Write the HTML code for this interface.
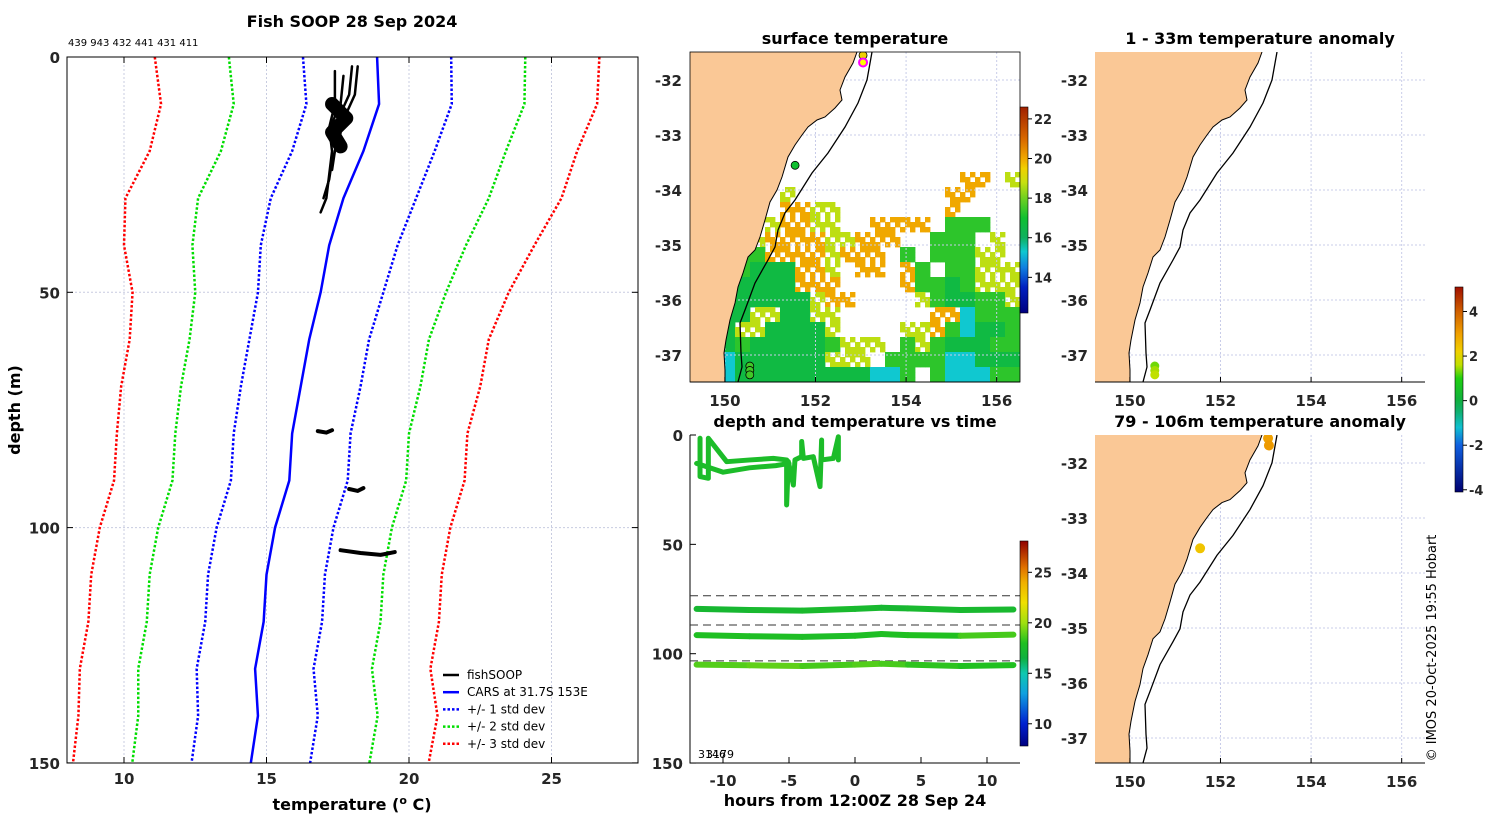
<!DOCTYPE html>
<html><head><meta charset="utf-8"><style>
html,body{margin:0;padding:0;background:#fff;}
svg text{font-family:"DejaVu Sans","Liberation Sans",sans-serif;}
.t{font-weight:bold;font-size:16px;fill:#000;}
.k{font-weight:bold;font-size:15px;fill:#262626;}
</style></head><body>
<svg id="s" width="1500" height="820" viewBox="0 0 1500 820" xmlns="http://www.w3.org/2000/svg">
<defs>
<clipPath id="cl1"><rect x="67" y="57" width="571" height="706"/></clipPath>
<clipPath id="cm1"><rect x="690" y="52" width="330" height="330"/></clipPath>
<clipPath id="cm2"><rect x="1095" y="52" width="330" height="330"/></clipPath>
<clipPath id="cm3"><rect x="1095" y="435" width="330" height="328"/></clipPath>
</defs>
<text x="352" y="27" text-anchor="middle" class="t">Fish SOOP 28 Sep 2024</text>
<text x="68" y="46" font-size="10">439 943 432 441 431 411</text>
<text x="855" y="44" text-anchor="middle" class="t">surface temperature</text>
<text x="855" y="427" text-anchor="middle" class="t">depth and temperature vs time</text>
<text x="1260" y="44" text-anchor="middle" class="t">1 - 33m temperature anomaly</text>
<text x="1260" y="427" text-anchor="middle" class="t">79 - 106m temperature anomaly</text>
<text x="352" y="810" text-anchor="middle" class="t">temperature (<tspan dy="-6" font-size="11">o</tspan><tspan dy="6"> C)</tspan></text>
<text transform="translate(20,410) rotate(-90)" text-anchor="middle" class="t">depth (m)</text>
<text x="855" y="806" text-anchor="middle" class="t">hours from 12:00Z 28 Sep 24</text>
<text transform="translate(1436,648) rotate(-90)" text-anchor="middle" font-size="13">© IMOS 20-Oct-2025 19:55 Hobart</text>
<text x="698" y="758" font-size="11">3146</text>
<text x="706" y="758" font-size="11">3179</text>
<g id="g"></g>
</svg>
<script>
// ---------- profile data ----------
const depths=[0,10,20,30,40,50,60,70,80,90,100,110,120,130,140,150];
const carsMean=[18.88,18.95,18.4,17.7,17.2,16.9,16.5,16.2,15.9,15.8,15.3,15.0,14.9,14.6,14.7,14.45];
const carsSd=[2.6,2.55,2.5,2.55,2.4,2.2,2.1,2.1,2.05,2.05,2.05,2.05,2.05,2.05,2.1,2.08];
const fishProfDepths=[[3,10,15,20,25,30,33],[4,10,14,18,22,26,30],[2,8,12,16,20,24],[2,8,12,16,20],[10,13,16,19]];
const fishProfTemps=[[17.4,17.4,17.2,17.3,17.2,17.1,16.9],[17.7,17.6,17.3,17.5,17.3,17.2,17.0],[18.0,17.9,17.6,17.5,17.4,17.3],[18.2,18.1,17.8,17.6,17.5],[17.3,17.8,17.3,17.6]];
const fishDeepDepths=[[79.5,79.8,79.3],[91.8,92.2,91.6],[104.8,105.4,105.8,105.2]];
const fishDeepTemps=[[16.8,17.1,17.3],[17.9,18.2,18.4],[17.6,18.3,19.0,19.5]];
const tempTicks=[10,15,20,25];
const depthTicks=[0,50,100,150];
// ---------- time plot data ----------
const surfHours=[-11.74,-11.74,-11.11,-11.11,-9.72,-7.95,-6.19,-5.18,-5.18,-5.05,-4.67,-4.55,-4.04,-4.04,-3.91,-3.16,-2.65,-2.53,-2.53,-1.64,-1.26,-1.26];
const surfDepths=[1.5,19,19.8,1.5,12.2,11.4,10.7,11.4,32,12.2,22.9,11.4,9.9,3,10.7,9.9,23.6,2.3,11.4,10.7,0.8,11.4];
const surf2Hours=[-12,-10,-8,-6,-5];
const surf2Depths=[13,17,15,14,13];
const bandHours=[-12,-8,-4,0,2,4,8,12];
const bandDepths=[[79.5,80,80.3,79.5,79,79.3,80,79.8],[91.5,92,92.3,91.8,91,91.5,91.8,91.3],[105,105.3,105.6,105,104.6,105,105.6,105.2]];
const bandTemps=[[17.2,17.3,17.4,17.3,17.2,17.3,17.3,17.2],[17.9,17.8,17.7,17.8,17.9,18.0,18.6,18.8],[18.8,19.0,18.6,18.8,18.6,18.2,18.0,18.1]];
const dashDepths=[73.5,86.9,103.3];
const hourTicks=[-10,-5,0,5,10];
const surfTemp=17.6;
// ---------- map data ----------
const lonTicks=[150,152,154,156];
const latTicks=[-32,-33,-34,-35,-36,-37];
const sstRows=["......................","......................","......................","......................","......................","......................","......................","......................",
"..................oo.y","......y..........oo...","......ooyy.......o....",".....yooyy..oooo.ggg..","....yooooyyooo..ggg.y.","...ggooooyooo.g.gggyy.",
"...gGGGooy.oo.og.ggyyy","..GGGGGooo....oggGgyyy","..GGGGGGyoo....ygGGggy","..GGyyGGyy......oocggg","..GyyGGGGy....yyogcGGg","..GgGGGGGgyyy.gygGGGgg","..cGGGGGGyyy.ggggccGGG","..cGGGGGGGGGccg.gcccgg"];
const sstClassTemp={G:16.6,g:17.3,y:18.7,o:20.0,c:15.3};
const sstPtLon=[153.05,151.55,150.55,150.55,150.55];
const sstPtLat=[-31.55,-33.55,-37.2,-37.28,-37.36];
const sstPtTemp=[19.5,17.0,17.5,17.5,17.5];
const anomShallowLon=[150.55,150.55,150.55];
const anomShallowLat=[-37.2,-37.28,-37.36];
const anomShallowVal=[1.3,1.5,1.6];
const anomDeepLon=[153.05,153.07,151.55];
const anomDeepLat=[-31.55,-31.68,-33.55];
const anomDeepVal=[3.0,3.1,2.4];
const sstCbVals=[12.2,13.5,14.5,15.3,16,17,18,18.8,19.5,20,21,22.6];
const sstCbCols=["#00007f","#0020c0","#1080e0","#10c8d0","#10b060","#10c030","#70d020","#c8e010","#f0d000","#f0a800","#d86800","#a02000"];
const timeCbVals=[7.8,10,13,15,16.5,18,20,22,24,25.5,28.1];
const timeCbCols=["#000080","#0020d0","#10a0e0","#10c8b0","#10b040","#20c020","#a0e010","#f0e000","#f0b000","#e07000","#900000"];
const anomCbVals=[-4.1,-2,-1.2,-0.5,0,1,1.6,2.2,3,4,5.1];
const anomCbCols=["#000070","#1060e0","#10c0d0","#10b070","#10b040","#20d010","#c0e000","#f0d000","#f0a000","#d06000","#a01000"];
const sstCbTicks=[14,16,18,20,22];
const timeCbTicks=[10,15,20,25];
const anomCbTicks=[-4,-2,0,2,4];
const coast=[[167,0],[163,11],[155,25],[150,38],[152,48],[145,56],[135,65],[127,68],[118,75],[112,83],[105,93],[98,105],[95,115],[92,125],[87,138],[80,150],[75,168],[70,185],[65,198],[58,205],[53,221],[48,235],[45,251],[40,268],[36,288],[34,301],[35,318],[35,330]];
const isobath=[[182,0],[177,28],[168,51],[155,75],[138,101],[122,121],[105,148],[95,161],[88,178],[85,195],[78,208],[65,231],[55,258],[50,271],[51,301],[52,315],[48,330]];

const NS="http://www.w3.org/2000/svg";
const G=document.getElementById('g');
function mk(tag,at,parent){const e=document.createElementNS(NS,tag);for(const k in at)e.setAttribute(k,at[k]);(parent||G).appendChild(e);return e;}
function hex(c){return [parseInt(c.substr(1,2),16),parseInt(c.substr(3,2),16),parseInt(c.substr(5,2),16)];}
function cmap(v,vals,cols){if(v<=vals[0])return cols[0];if(v>=vals[vals.length-1])return cols[cols.length-1];
 for(let i=0;i<vals.length-1;i++){if(v<=vals[i+1]){const f=(v-vals[i])/(vals[i+1]-vals[i]);const a=hex(cols[i]),b=hex(cols[i+1]);
 return 'rgb('+a.map((x,j)=>Math.round(x+(b[j]-x)*f)).join(',')+')';}}}

// ===== Left profile plot =====
const X=t=>67+(t-8)*28.5, Y=d=>57+d*4.706;
tempTicks.forEach(t=>{let l=mk('line',{x1:X(t),x2:X(t),y1:57,y2:763,stroke:'#c8cce0','stroke-dasharray':'2 2','stroke-width':1});
 
 mk('line',{x1:X(t),x2:X(t),y1:57,y2:63,stroke:'#000'});mk('line',{x1:X(t),x2:X(t),y1:757,y2:763,stroke:'#000'});
 let tx=mk('text',{x:X(t),y:784,'text-anchor':'middle',class:'k'});tx.textContent=t;
 });
depthTicks.forEach(d=>{if(d>0&&d<150){let l=mk('line',{x1:67,x2:638,y1:Y(d),y2:Y(d),stroke:'#c8cce0','stroke-dasharray':'2 2'});
 }
 mk('line',{x1:67,x2:73,y1:Y(d),y2:Y(d),stroke:'#000'});mk('line',{x1:632,x2:638,y1:Y(d),y2:Y(d),stroke:'#000'});
 let tx=mk('text',{x:60,y:Y(d)+6,'text-anchor':'end',class:'k'});tx.textContent=d;
 });
const lp=mk('g',{'clip-path':'url(#cl1)'});

const sdStyle=[['#0000ff',1],['#00dd00',2],['#ff0000',3]];
sdStyle.forEach(([c,k])=>{[-1,1].forEach(sg=>{
 const pts=depths.map((d,i)=>X(carsMean[i]+sg*k*carsSd[i])+','+Y(d)).join(' ');
 let p=mk('polyline',{points:pts,fill:'none',stroke:c,'stroke-width':2.5,'stroke-dasharray':'2.5 2'},lp);
 });});
let cm=mk('polyline',{points:depths.map((d,i)=>X(carsMean[i])+','+Y(d)).join(' '),fill:'none',stroke:'#0000ff','stroke-width':2.5},lp);

fishProfDepths.forEach((ds,j)=>{let p=mk('polyline',{points:ds.map((d,i)=>X(fishProfTemps[j][i])+','+Y(d)).join(' '),fill:'none',stroke:'#000','stroke-width':j==4?14:2.5,'stroke-linejoin':'round','stroke-linecap':'round'},lp);
 });
fishDeepDepths.forEach((ds,j)=>{let p=mk('polyline',{points:ds.map((d,i)=>X(fishDeepTemps[j][i])+','+Y(d)).join(' '),fill:'none',stroke:'#000','stroke-width':4,'stroke-linecap':'round'},lp);
 });
let bx=mk('rect',{x:67,y:57,width:571,height:706,fill:'none',stroke:'#000','stroke-width':1});

const legItems=[['fishSOOP','#000',null],['CARS at 31.7S 153E','#0000ff',null],['+/- 1 std dev','#0000ff','2.5 2'],['+/- 2 std dev','#00dd00','2.5 2'],['+/- 3 std dev','#ff0000','2.5 2']];
const lg=mk('g',{});
legItems.forEach((it,i)=>{const y=675+i*17.2;const a={x1:443,x2:459,y1:y,y2:y,stroke:it[1],'stroke-width':2.5};if(it[2])a['stroke-dasharray']=it[2];
 let l=mk('line',a,lg);
 let t=mk('text',{x:467,y:y+4,'font-size':12},lg);t.textContent=it[0];});

function grad(id,vals,cols){const defs=document.querySelector('defs');const g=mk('linearGradient',{id:id,x1:0,y1:1,x2:0,y2:0},defs);
 const lo=vals[0],hi=vals[vals.length-1];vals.forEach((v,i)=>mk('stop',{offset:(v-lo)/(hi-lo),'stop-color':cols[i]},g));}
function colorbar(x,yTop,yBot,vals,cols,ticks,id,name){grad(id,vals,cols);
 let r=mk('rect',{x:x,y:yTop,width:8,height:yBot-yTop,fill:'url(#'+id+')',stroke:'#000','stroke-width':0.6});
 
 const lo=vals[0],hi=vals[vals.length-1];
 ticks.forEach(t=>{const y=yBot-(t-lo)/(hi-lo)*(yBot-yTop);mk('line',{x1:x+8,x2:x+12,y1:y,y2:y,stroke:'#000'});
  let tx=mk('text',{x:x+14,y:y+5,'font-size':13,'font-weight':'bold',fill:'#262626'});tx.textContent=t;
  });}

function mapAxes(ox,oy,h,clip,name){
 const MX=lon=>ox+(lon-149.23)*45.3, MY=lat=>oy+(-31.49-lat)*55;
 const g=mk('g',{'clip-path':'url(#'+clip+')'});
 return {MX,MY,g};}
function mapDecor(m,ox,oy,h,name,labLeft){
 lonTicks.forEach(l=>{let ln=mk('line',{x1:m.MX(l),x2:m.MX(l),y1:oy,y2:oy+h,stroke:'#c8cce8','stroke-dasharray':'2 2'},m.g);
  
  let t=mk('text',{x:m.MX(l),y:oy+h+24,'text-anchor':'middle',class:'k'});t.textContent=l;
  });
 latTicks.forEach(l=>{let ln=mk('line',{x1:ox,x2:ox+330,y1:m.MY(l),y2:m.MY(l),stroke:'#c8cce8','stroke-dasharray':'2 2'},m.g);
  
  let t=mk('text',{x:labLeft,y:m.MY(l)+6,'text-anchor':'end',class:'k'});t.textContent=l;
  });
 const land=coast.map(p=>(ox+p[0])+','+(oy+p[1]*h/330)).join(' ')+' '+ox+','+(oy+h)+' '+ox+','+oy;
 let lp=mk('polygon',{points:land,fill:'#fac896',stroke:'none'},m.g);
 let cl=mk('polyline',{points:coast.map(p=>(ox+p[0])+','+(oy+p[1]*h/330)).join(' '),fill:'none',stroke:'#000','stroke-width':1},m.g);
 
 let ib=mk('polyline',{points:isobath.map(p=>(ox+p[0])+','+(oy+p[1]*h/330)).join(' '),fill:'none',stroke:'#000','stroke-width':1.3},m.g);
 
 let b=mk('path',{d:`M${ox},${oy+h} H${ox+330}`,stroke:'#000',fill:'none'});
 lonTicks.forEach(l=>mk('line',{x1:m.MX(l),x2:m.MX(l),y1:oy+h,y2:oy+h-5,stroke:'#000'}));}

// SST map
const m1=mapAxes(690,52,330,'cm1','sst-map');
const cell=330/22, sub=cell/3;
sstRows.forEach((row,r)=>{for(let c=0;c<row.length;c++){const ch=row[c];if(ch==='.')continue;
 const col=cmap(sstClassTemp[ch],sstCbVals,sstCbCols);const sparse=(ch==='o'||ch==='y');
 for(let i=0;i<3;i++)for(let j=0;j<3;j++){if(sparse&&((i*2+j+r+c)%3===0))continue;
  let rc=mk('rect',{x:690+c*cell+j*sub,y:52+r*cell+i*sub,width:sub+0.4,height:sub+0.4,fill:col},m1.g);
  }}});
mapDecor(m1,690,52,330,'sst-map',682);
mk('rect',{x:690,y:52,width:330,height:330,fill:'none',stroke:'#000','stroke-width':0.8});
sstPtLon.forEach((lo,i)=>{let c=mk('circle',{cx:m1.MX(lo),cy:m1.MY(sstPtLat[i]),r:4,fill:cmap(sstPtTemp[i],sstCbVals,sstCbCols),stroke:'#000','stroke-width':0.8},m1.g);
 });
let mg=mk('circle',{cx:m1.MX(153.05),cy:m1.MY(-31.68),r:4,fill:'#ff0',stroke:'#f0f','stroke-width':2},m1.g);

colorbar(1020,107,313,sstCbVals,sstCbCols,sstCbTicks,'gsst','sst-colorbar');

const m2=mapAxes(1095,52,330,'cm2','anomaly-shallow-map');
mapDecor(m2,1095,52,330,'anomaly-shallow-map',1088);
anomShallowLon.forEach((lo,i)=>{let c=mk('circle',{cx:m2.MX(lo),cy:m2.MY(anomShallowLat[i]),r:4.5,fill:cmap(anomShallowVal[i],anomCbVals,anomCbCols)},m2.g);
 });
const m3=mapAxes(1095,435,328,'cm3','anomaly-deep-map');
mapDecor(m3,1095,435,328,'anomaly-deep-map',1088);
anomDeepLon.forEach((lo,i)=>{let c=mk('circle',{cx:m3.MX(lo),cy:m3.MY(anomDeepLat[i]),r:5,fill:cmap(anomDeepVal[i],anomCbVals,anomCbCols)},m3.g);
 });
colorbar(1455,287,492,anomCbVals,anomCbCols,anomCbTicks,'ganom','anomaly-colorbar');

// ===== time plot =====
const HX=h=>855+h*13.2, HY=d=>435+d*2.187;
let ax=mk('path',{d:'M690,435 V763 H1020',stroke:'#000',fill:'none'});
hourTicks.forEach(h=>{mk('line',{x1:HX(h),x2:HX(h),y1:763,y2:757,stroke:'#000'});
 let t=mk('text',{x:HX(h),y:786,'text-anchor':'middle',class:'k'});t.textContent=h;});
depthTicks.forEach(d=>{mk('line',{x1:690,x2:696,y1:HY(d),y2:HY(d),stroke:'#000'});
 let t=mk('text',{x:683,y:HY(d)+6,'text-anchor':'end',class:'k'});t.textContent=d;});
dashDepths.forEach(d=>{let l=mk('line',{x1:690,x2:1020,y1:HY(d),y2:HY(d),stroke:'#333','stroke-dasharray':'8 5','stroke-width':1});
 });
const sc=cmap(surfTemp,timeCbVals,timeCbCols);
let s1=mk('polyline',{points:surfHours.map((h,i)=>HX(h)+','+HY(surfDepths[i])).join(' '),fill:'none',stroke:sc,'stroke-width':5,'stroke-linejoin':'round','stroke-linecap':'round'});

let s2=mk('polyline',{points:surf2Hours.map((h,i)=>HX(h)+','+HY(surf2Depths[i])).join(' '),fill:'none',stroke:sc,'stroke-width':5,'stroke-linecap':'round'});

bandDepths.forEach((ds,j)=>{for(let i=0;i<bandHours.length-1;i++){
 let l=mk('line',{x1:HX(bandHours[i]),y1:HY(ds[i]),x2:HX(bandHours[i+1]),y2:HY(ds[i+1]),stroke:cmap(bandTemps[j][i],timeCbVals,timeCbCols),'stroke-width':6,'stroke-linecap':'round'});
 }});
colorbar(1020,541,746,timeCbVals,timeCbCols,timeCbTicks,'gtime','time-colorbar');
</script>
</body></html>
